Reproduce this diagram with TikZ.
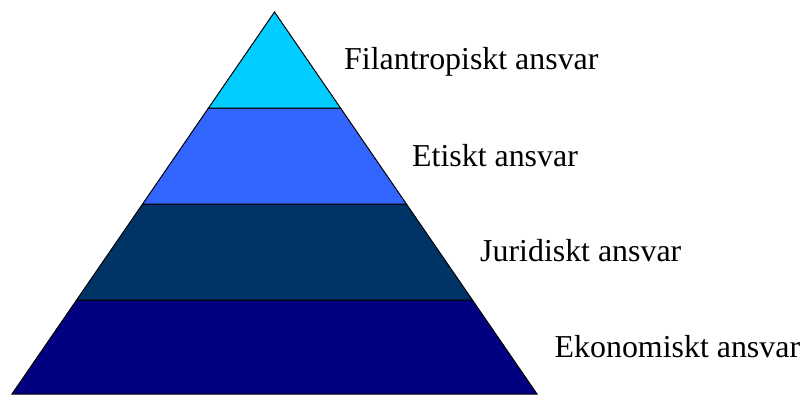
\documentclass[tikz,border=0pt]{standalone}
\usepackage{fontspec}
\setmainfont{Liberation Serif}
\usepackage{xcolor}
\usepackage{tikz}
\usetikzlibrary{positioning}
\definecolor{mycyan}{HTML}{00CCFF}
\definecolor{mylightblue}{HTML}{3366FF}
\definecolor{mypetrol}{HTML}{003366}
\definecolor{mynavy}{HTML}{000080}
\tikzstyle{layer} = [draw=black, line width=1pt, line join=miter]
\tikzstyle{label} = [anchor=base west, inner sep=0pt, font=\fontsize{31.9}{38}\selectfont]

\begin{document}
\begin{tikzpicture}[x=1pt, y=-1pt]
\useasboundingbox (0,0) rectangle (804,394);

\coordinate (top) at (274.5,12);
\coordinate (l1) at (208.5,108);
\coordinate (r1) at (340.5,108);
\coordinate (l2) at (142.6,204);
\coordinate (r2) at (406.4,204);
\coordinate (l3) at (76.6,300);
\coordinate (r3) at (472.4,300);
\coordinate (l4) at (12,394);
\coordinate (r4) at (537,394);

\draw[layer, fill=mynavy] (l3) -- (r3) -- (r4) -- (l4) -- cycle;
\draw[layer, fill=mypetrol] (l2) -- (r2) -- (r3) -- (l3) -- cycle;
\draw[layer, fill=mylightblue] (l1) -- (r1) -- (r2) -- (l2) -- cycle;
\draw[layer, fill=mycyan] (top) -- (r1) -- (l1) -- cycle;

\node[label] (filantropiskt) at (344,69.5) {Filantropiskt ansvar};
\node[label] (etiskt) at (412,166) {Etiskt ansvar};
\node[label] (juridiskt) at (480,261.5) {Juridiskt ansvar};
\node[label] (ekonomiskt) at (554.5,357.5) {Ekonomiskt ansvar};
\end{tikzpicture}
\end{document}
